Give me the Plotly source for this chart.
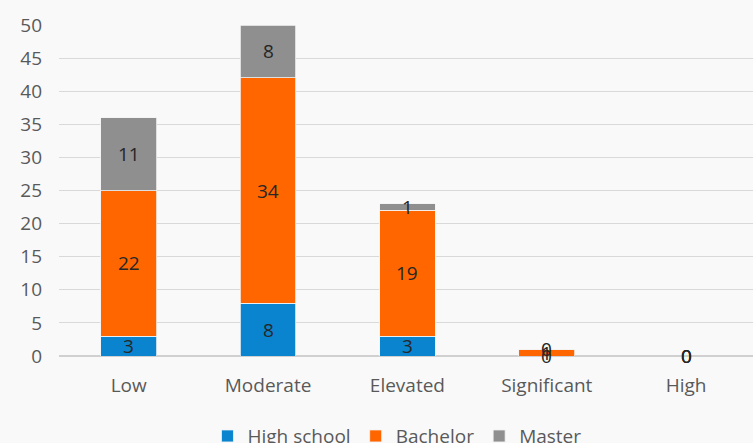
import plotly.graph_objects as go

categories = ["Low", "Moderate", "Elevated", "Significant", "High"]
high_school = [3, 8, 3, 0, 0]
bachelor = [22, 34, 19, 1, 0]
master = [11, 8, 1, 0, 0]
y_ticks = list(range(0, 55, 5))

series = [
    ("High school", high_school, "#0A84CF"),
    ("Bachelor", bachelor, "#FF6600"),
    ("Master", master, "#8F8F8F"),
]

FONT = "Open Sans"
TEXT_GREY = "#595959"
SIZE = 19

fig = go.Figure()
for name, vals, color in series:
    fig.add_trace(go.Bar(
        name=name, x=categories, y=vals,
        marker=dict(color=color, line=dict(color="#f2f2f2", width=0.8)),
        textposition="none",
    ))

# value labels centred on each stacked segment
base = [0] * len(categories)
for name, vals, color in series:
    for i, (c, v) in enumerate(zip(categories, vals)):
        fig.add_annotation(
            x=c, y=base[i] + v / 2, text=str(v), showarrow=False,
            font=dict(family=FONT, size=SIZE, color="#262626"),
            xanchor="center", yanchor="middle",
        )
        base[i] += v

fig.update_layout(
    barmode="stack",
    bargap=0.6,
    width=753, height=443,
    margin=dict(l=59, r=0, t=25, b=87, autoexpand=False),
    paper_bgcolor="#f9f9f9",
    plot_bgcolor="#f9f9f9",
    font=dict(family=FONT, size=SIZE, color=TEXT_GREY),
    legend=dict(
        orientation="h", x=0.487, xanchor="center", y=-0.242, yanchor="middle",
        font=dict(family=FONT, size=SIZE, color=TEXT_GREY),
        itemwidth=30, traceorder="normal",
    ),
    showlegend=True,
)
fig.update_xaxes(
    range=[-0.5, 4.48], showgrid=False, showline=False, ticks="",
    ticklabelstandoff=16, tickfont=dict(family=FONT, size=SIZE, color=TEXT_GREY),
)
fig.update_yaxes(
    range=[0, 50], tickvals=y_ticks, showgrid=True, gridcolor="#d9d9d9",
    gridwidth=1.3, zeroline=True, zerolinecolor="#d0d0d0", zerolinewidth=1.5,
    showline=False, ticks="", ticklabelstandoff=16,
    tickfont=dict(family=FONT, size=SIZE, color=TEXT_GREY),
)

fig.write_html("out.html")
